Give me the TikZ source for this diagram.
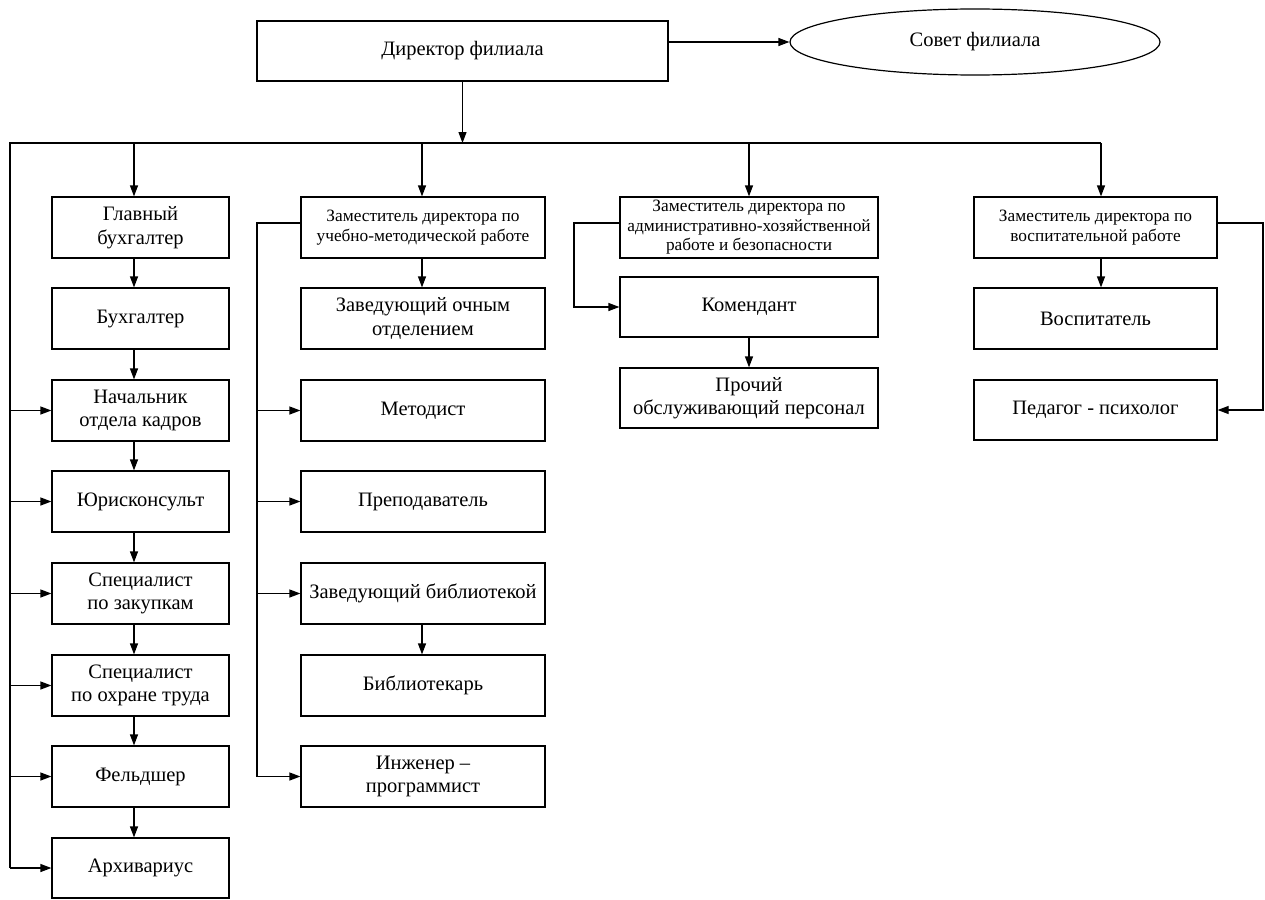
\documentclass[tikz,border=0pt]{standalone}
\usepackage{fontspec}
\setmainfont{Liberation Serif}
\usetikzlibrary{arrows.meta,shapes.geometric}
\begin{document}
\begin{tikzpicture}[x=1pt,y=-1pt,
  box/.style={draw=black,line width=1.2pt,rectangle,align=center,inner sep=1pt,
    font=\fontsize{20.5}{23.5}\selectfont,text=black},
  sbox/.style={box,font=\fontsize{17.3}{19.5}\selectfont},
  c1box/.style={box,minimum width=177pt,minimum height=61pt},
  c2box/.style={box,minimum width=244pt,minimum height=61pt},
  c3box/.style={box,minimum width=258pt,minimum height=61pt},
  c4box/.style={box,minimum width=243pt,minimum height=61pt},
  arr/.style={line width=1.2pt,-{Triangle[length=11pt,width=8pt]}},
  ln/.style={line width=1.2pt}]
\useasboundingbox (0,0) rectangle (1265,899);

% top
\node[box,minimum width=411pt,minimum height=60pt] (dir) at (462.5,51) {Директор филиала};
\node[draw=black,line width=1.2pt,ellipse,minimum width=370pt,minimum height=66pt,
  font=\fontsize{20.5}{23.5}\selectfont] (sov) at (975,42) {Совет филиала};

% column 1
\node[c1box] (g1) at (140.5,227.5) {Главный\\бухгалтер};
\node[c1box] (g2) at (140.5,318.5) {Бухгалтер};
\node[c1box] (g3) at (140.5,410.5) {Начальник\\отдела кадров};
\node[c1box] (g4) at (140.5,501.5) {Юрисконсульт};
\node[c1box] (g5) at (140.5,593.5) {Специалист\\по закупкам};
\node[c1box] (g6) at (140.5,685.5) {Специалист\\по охране труда};
\node[c1box] (g7) at (140.5,776.5) {Фельдшер};
\node[c1box,minimum height=60pt] (g8) at (140.5,868) {Архивариус};

% column 2
\node[c2box,sbox,minimum width=244pt,minimum height=61pt] (umr) at (423,227.5) {Заместитель директора по\\учебно-методической работе};
\node[c2box] (och) at (423,318.5) {Заведующий очным\\отделением};
\node[c2box] (met) at (423,410.5) {Методист};
\node[c2box] (pre) at (423,501.5) {Преподаватель};
\node[c2box] (zbib) at (423,593.5) {Заведующий библиотекой};
\node[c2box] (bib) at (423,685.5) {Библиотекарь};
\node[c2box] (ing) at (423,776.5) {Инженер –\\программист};

% column 3
\node[c3box,sbox,minimum width=258pt,minimum height=61pt] (ahr) at (749,227.5) {Заместитель директора по\\административно-хозяйственной\\работе и безопасности};
\node[c3box,minimum height=60pt] (kom) at (749,307) {Комендант};
\node[c3box,minimum height=60pt] (pro) at (749,398) {Прочий\\обслуживающий персонал};

% column 4
\node[c4box,sbox,minimum width=243pt,minimum height=61pt] (vr) at (1095.5,227.5) {Заместитель директора по\\воспитательной работе};
\node[c4box] (vos) at (1095.5,318.5) {Воспитатель};
\node[c4box,minimum height=60pt] (ped) at (1095.5,410) {Педагог - психолог};

% helper coordinates
\coordinate (busL) at (10,143);
\coordinate (busR) at (1101,143);
\coordinate (c1) at (134,0);
\coordinate (c2) at (422,0);
\coordinate (c3) at (749,0);
\coordinate (c4) at (1101,0);
\coordinate (l2) at (257,0);
\coordinate (l3) at (574,0);
\coordinate (r4) at (1263,0);
\coordinate (u2) at ([yshift=4.5pt]umr.west);
\coordinate (u3) at ([yshift=4.5pt]ahr.west);
\coordinate (u4) at ([yshift=4.5pt]vr.east);

% top connectors
\draw[arr] (dir.east |- sov.west) -- (sov.west);
\draw[arr] (dir.south) -- (dir.south |- busL);
\draw[ln] (busR) -- (busL) -- (busL |- g8.west);
\draw[arr] (c1 |- busL) -- (c1 |- g1.north);
\draw[arr] (c2 |- busL) -- (c2 |- umr.north);
\draw[arr] (c3 |- busL) -- (c3 |- ahr.north);
\draw[arr] (c4 |- busL) -- (c4 |- vr.north);

% column 1 chain
\draw[arr] (c1 |- g1.south) -- (c1 |- g2.north);
\draw[arr] (c1 |- g2.south) -- (c1 |- g3.north);
\draw[arr] (c1 |- g3.south) -- (c1 |- g4.north);
\draw[arr] (c1 |- g4.south) -- (c1 |- g5.north);
\draw[arr] (c1 |- g5.south) -- (c1 |- g6.north);
\draw[arr] (c1 |- g6.south) -- (c1 |- g7.north);
\draw[arr] (c1 |- g7.south) -- (c1 |- g8.north);
\foreach \n in {g3,g4,g5,g6,g7,g8}
  \draw[arr] (busL |- \n.west) -- (\n.west);

% column 2
\draw[arr] (c2 |- umr.south) -- (c2 |- och.north);
\draw[arr] (c2 |- zbib.south) -- (c2 |- bib.north);
\draw[ln] (u2) -- (l2 |- u2) -- (l2 |- ing.west);
\foreach \n in {met,pre,zbib,ing}
  \draw[arr] (l2 |- \n.west) -- (\n.west);

% column 3
\draw[arr] (u3) -- (l3 |- u3) -- (l3 |- kom.west) -- (kom.west);
\draw[arr] (c3 |- kom.south) -- (c3 |- pro.north);

% column 4
\draw[arr] (c4 |- vr.south) -- (c4 |- vos.north);
\draw[arr] (u4) -- (r4 |- u4) -- (r4 |- ped.east) -- (ped.east);
\end{tikzpicture}
\end{document}
